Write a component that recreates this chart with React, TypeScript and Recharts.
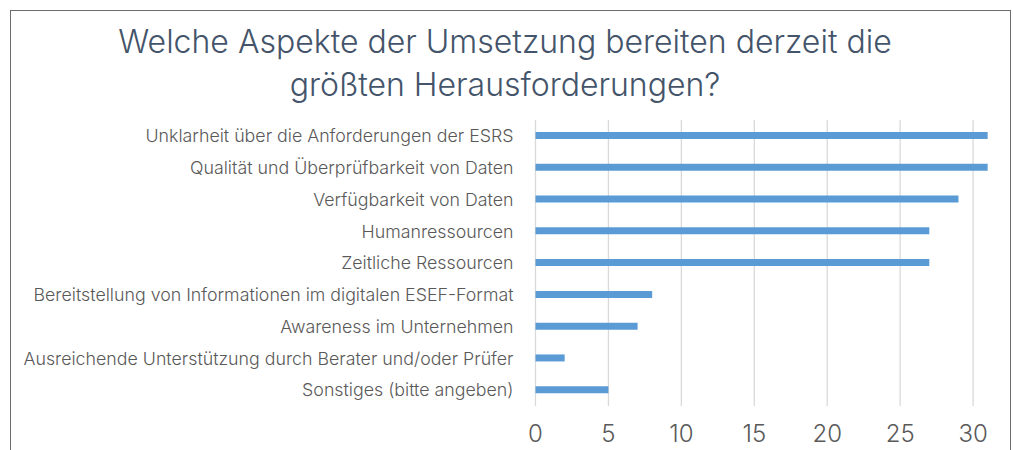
import React from "react";
import { BarChart, Bar, XAxis, YAxis, CartesianGrid } from "recharts";

const categories = [
  "Unklarheit über die Anforderungen der ESRS",
  "Qualität und Überprüfbarkeit von Daten",
  "Verfügbarkeit von Daten",
  "Humanressourcen",
  "Zeitliche Ressourcen",
  "Bereitstellung von Informationen im digitalen ESEF-Format",
  "Awareness im Unternehmen",
  "Ausreichende Unterstützung durch Berater und/oder Prüfer",
  "Sonstiges (bitte angeben)",
];
const values = [31, 31, 29, 27, 27, 8, 7, 2, 5];
const xTicks = [0, 5, 10, 15, 20, 25, 30];
const titleLines = ["Welche Aspekte der Umsetzung bereiten derzeit die", "größten Herausforderungen?"];

const data = categories.map((name, i) => ({ name, value: values[i] }));

const FONT = "Inter, 'Liberation Sans', Arial, sans-serif";
const W = 300;

export default function App() {
  return (
    <div style={{ position: "absolute", left: 0, top: 0, width: 1013, height: 450, overflow: "hidden", background: "#fff", fontFamily: FONT }}>
      <div style={{ position: "absolute", left: 10, top: 10, width: 1001, height: 500, boxSizing: "border-box", border: "1px solid #6b6b6b" }} />
      <svg style={{ position: "absolute", left: 0, top: 0 }} width={1013} height={110}>
        {titleLines.map((t, i) => (
          <text key={t} x={505} y={53 + i * 43} textAnchor="middle" fontFamily={FONT} fontWeight={W} fontSize={32} fill="#44546a">
            {t}
          </text>
        ))}
      </svg>
      <div style={{ position: "absolute", left: 0, top: 0 }}>
        <BarChart width={1046} height={450} data={data} layout="vertical" margin={{ top: 120, right: 0, bottom: 0, left: 0 }}>
          <CartesianGrid horizontal={false} vertical={true} stroke="#d9d9d9" strokeWidth={1.3} />
          <XAxis type="number" domain={[0, 35]} ticks={xTicks} axisLine={false} tickLine={false} tickSize={0} tickMargin={19} height={44} tick={{ fill: "#595959", fontSize: 24, fontFamily: FONT, fontWeight: W }} />
          <YAxis type="category" dataKey="name" width={535.5} axisLine={false} tickLine={false} tickSize={0} tickMargin={22} interval={0} tick={{ fill: "#595959", fontSize: 17.8, fontFamily: FONT, fontWeight: W }} />
          <Bar dataKey="value" fill="#5b9bd5" barSize={7} isAnimationActive={false} />
        </BarChart>
      </div>
    </div>
  );
}
